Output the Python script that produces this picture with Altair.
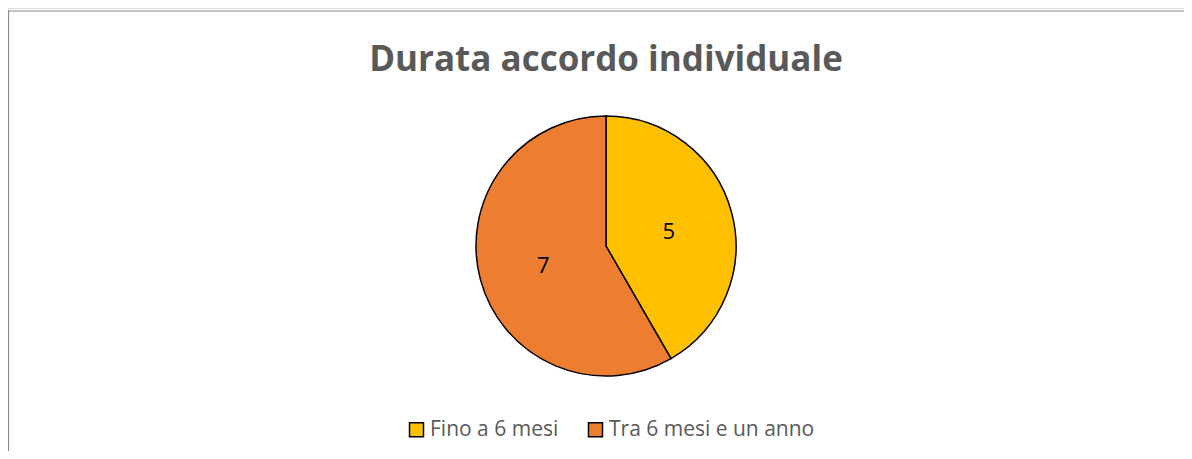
import altair as alt
import pandas as pd

categories = ["Fino a 6 mesi", "Tra 6 mesi e un anno"]
values = [5, 7]
order = [1, 2]
colors = ["#FFC000", "#ED7D31"]

W, H = 1176, 443
CX, CY = 598, 238

df = pd.DataFrame({"cat": categories, "val": values, "ord": order})

base = alt.Chart(df).encode(
    theta=alt.Theta("val:Q", stack=True),
    order=alt.Order("ord:Q"),
)

arc = base.mark_arc(stroke="black", strokeWidth=1.5, radius=130).encode(
    x=alt.value(CX),
    y=alt.value(CY),
    color=alt.Color(
        "cat:N",
        scale=alt.Scale(domain=categories, range=colors),
        sort=categories,
        legend=alt.Legend(
            title=None,
            orient="none",
            legendX=398,
            legendY=411,
            direction="horizontal",
            symbolType="square",
            symbolSize=196,
            symbolStrokeColor="black",
            symbolStrokeWidth=1.5,
            symbolOpacity=1,
            labelFont="Open Sans",
            labelFontSize=21,
            labelColor="#595959",
            labelOffset=3,
            labelLimit=400,
            columnPadding=26,
            padding=0,
        ),
    ),
)

text = base.mark_text(
    radius=65, font="Open Sans", fontSize=22, color="black",
    align="center", baseline="middle", dy=3
).encode(
    x=alt.value(CX),
    y=alt.value(CY),
    text=alt.Text("val:Q"),
)

border_df = pd.DataFrame({"a": [0]})
top_rule = alt.Chart(border_df).mark_rule(color="#8a8a8a", strokeWidth=1.2).encode(
    x=alt.value(0), x2=alt.value(W), y=alt.value(3)
)
left_rule = alt.Chart(border_df).mark_rule(color="#8a8a8a", strokeWidth=1.2).encode(
    x=alt.value(0.5), y=alt.value(3), y2=alt.value(H)
)

chart = alt.layer(top_rule, left_rule, arc, text).properties(
    width=W,
    height=H,
    padding=0,
    autosize=alt.AutoSizeParams(type="none"),
    title=alt.TitleParams(
        "Durata accordo individuale",
        font="Open Sans",
        fontSize=35,
        fontWeight="bold",
        color="#595959",
        anchor="middle",
        frame="group",
        baseline="alphabetic",
        offset=0,
        dx=10,
        dy=98,
    ),
).configure_view(stroke=None).configure(background="white")

chart.save("out.html", embed_options={"renderer": "svg", "actions": False})
